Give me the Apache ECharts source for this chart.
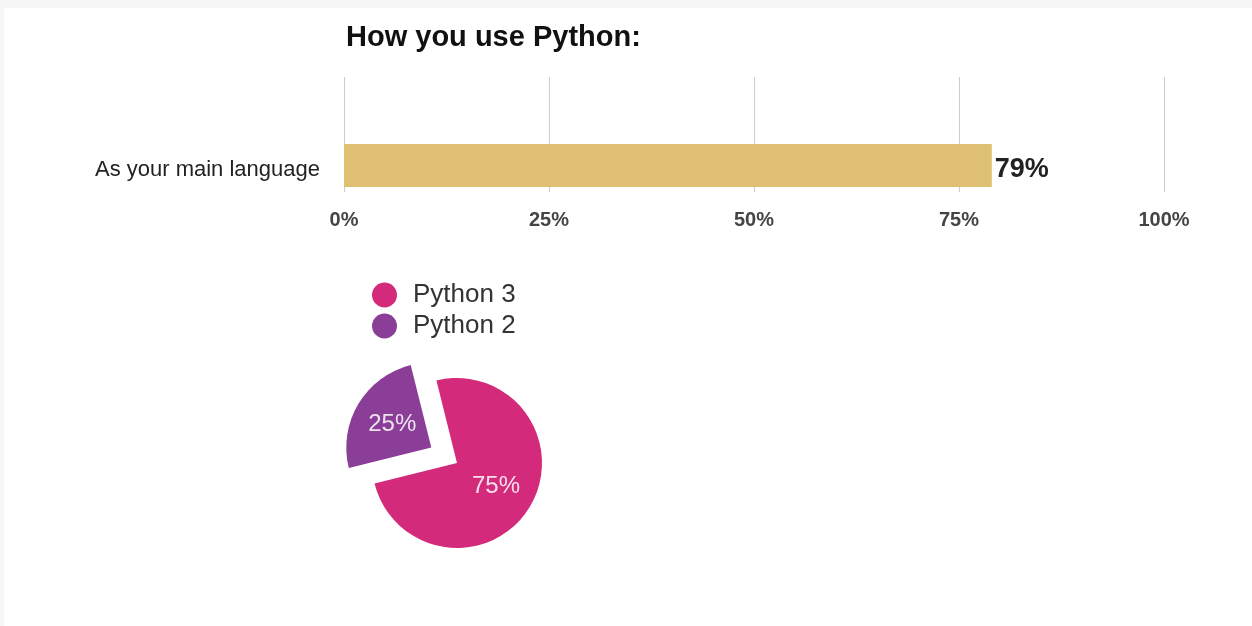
<!DOCTYPE html>
<html>
<head>
<meta charset="utf-8">
<script src="https://cdn.jsdelivr.net/npm/echarts@6/dist/echarts.min.js"></script>
<style>
html,body{margin:0;padding:0;background:#f7f7f7;width:1252px;height:626px;overflow:hidden;}
#main{position:absolute;left:4px;top:8px;width:1248px;height:618px;background:#ffffff;}
</style>
</head>
<body>
<div id="main"></div>
<script>
const titleText = 'How you use Python:';
const categories = ['As your main language'];
const usageValues = [79];
const axisMin = 0, axisMax = 100, axisStep = 25;
const pieNames = ['Python 3', 'Python 2'];
const pieValues = [75, 25];
const pieColors = ['#d42a7b', '#8a3e97'];
const barColor = '#dfc072';

const FONT = '"Liberation Sans", Arial, Helvetica, sans-serif';
const chart = echarts.init(document.getElementById('main'), null, {renderer: 'canvas'});

const option = {
  animation: false,
  title: {
    text: titleText,
    left: 342, top: 15, padding: 0,
    textStyle: {fontFamily: FONT, fontSize: 29, fontWeight: 'bold', color: '#111'}
  },
  legend: {
    orient: 'vertical',
    left: 368, top: 274, padding: 0,
    icon: 'circle',
    itemWidth: 25, itemHeight: 25, itemGap: 5, itemTextGap: 15,
    data: pieNames,
    selectedMode: false,
    textStyle: {fontFamily: FONT, fontSize: 26, color: '#333', padding: [4, 0, 0, 11]}
  },
  grid: [
    {left: 340, width: 820, top: 69, height: 115, containLabel: false},
    {left: 340, width: 820, top: 136, height: 43, containLabel: false}
  ],
  xAxis: [
    {
      gridIndex: 0, type: 'value', min: axisMin, max: axisMax, interval: axisStep,
      axisLine: {show: false}, axisTick: {show: false},
      splitLine: {show: true, lineStyle: {color: '#cccccc', width: 1}},
      axisLabel: {formatter: '{value}%', margin: 18, fontFamily: FONT, fontSize: 20, fontWeight: 'bold', color: '#444'}
    },
    {
      gridIndex: 1, type: 'value', min: axisMin, max: axisMax, interval: axisStep,
      show: false
    }
  ],
  yAxis: [
    {gridIndex: 0, type: 'category', data: categories, show: false},
    {
      gridIndex: 1, type: 'category', data: categories,
      axisLine: {show: false}, axisTick: {show: false},
      axisLabel: {
        margin: 24, formatter: '{a|{value}}',
        rich: {a: {fontFamily: FONT, fontSize: 22, color: '#222', padding: [8, 0, 0, 0]}}
      }
    }
  ],
  series: [
    {
      type: 'bar', xAxisIndex: 1, yAxisIndex: 1,
      data: usageValues, barWidth: 43,
      itemStyle: {color: barColor},
      label: {show: true, position: 'right', distance: 3, offset: [0, 4], formatter: '{c}%',
        fontFamily: FONT, fontSize: 27, fontWeight: 'bold', color: '#222'},
      emphasis: {disabled: true}, silent: true
    },
    {
      type: 'pie',
      center: [453, 455], radius: 85,
      startAngle: 104, clockwise: true,
      selectedMode: 'single', selectedOffset: 30,
      data: pieNames.map((n, i) => ({
        name: n, value: pieValues[i], selected: i === 1,
        itemStyle: {color: pieColors[i]}
      })),
      label: {show: true, position: 'inside', formatter: '{c}%',
        fontFamily: FONT, fontSize: 24, color: 'rgba(255,255,255,0.85)'},
      labelLine: {show: false},
      emphasis: {disabled: true}, silent: true
    }
  ]
};
chart.setOption(option);
</script>
</body>
</html>
